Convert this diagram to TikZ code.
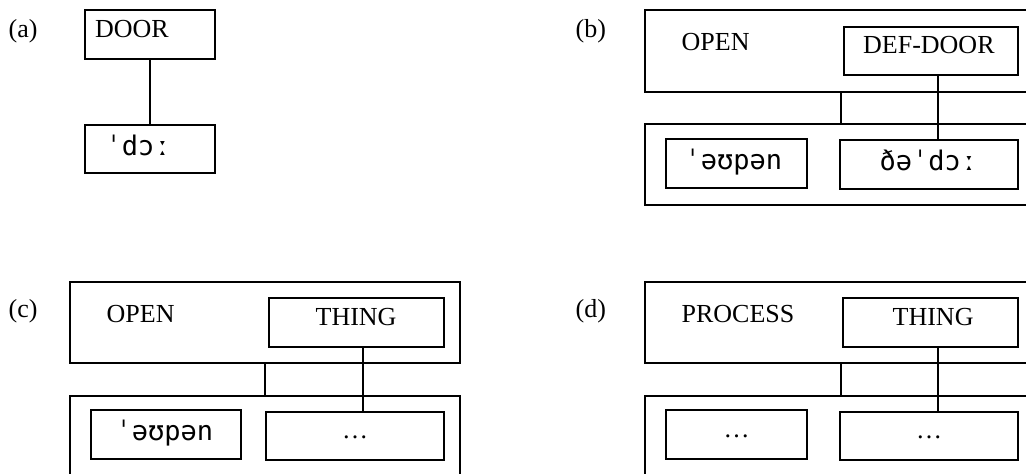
\documentclass[tikz,border=0pt]{standalone}
\usepackage{fontspec}
\setmainfont{Liberation Serif}
\newfontfamily\ipafont{DejaVu Sans Mono}
\begin{document}
\begin{tikzpicture}[x=0.5pt,y=-0.5pt,line width=0.65pt,
  box/.style 2 args={draw, inner sep=0pt, outer sep=0pt, minimum width=#1*0.5pt, minimum height=#2*0.5pt, anchor=north west},
  lbl/.style={inner sep=0pt, anchor=base west, font=\fontsize{13}{15}\selectfont},
  ipa/.style={inner sep=0pt, anchor=base west, font=\fontsize{13.5}{15}\ipafont},
  dots/.style={inner sep=0pt, anchor=base, font=\fontsize{13}{15}\selectfont}]
\useasboundingbox (0,0) rectangle (1026,473);
\clip (0,0) rectangle (1026,473);
\fill[white] (0,0) rectangle (1026,473);
% (a)
\node[lbl] (labA) at (8,37) {(a)};
\node[box={130}{49}] (doorA) at (85,10) {};
\node[lbl] (tDoorA) at (94.5,37) {DOOR};
\node[box={130}{48}] (phonA) at (85,125) {};
\node[ipa] (tPhonA) at (105,155) {ˈdɔː};
\draw (doorA.south) -- (phonA.north);
% (b)
\node[lbl] (labB) at (575,37) {(b)};
\node[box={400}{82}] (upB) at (645,10) {};
\node[lbl] (tOpenB) at (681,50) {OPEN};
\node[box={174}{48}] (defB) at (844,27) {};
\node[lbl] (tDefB) at (862.5,53) {DEF-DOOR};
\node[box={400}{81}] (lowB) at (645,124) {};
\node[box={141}{49}] (ouB) at (666,139) {};
\node[ipa] (tOuB) at (684,169.5) {ˈəʊpən};
\node[box={178}{49}] (dhB) at (840,140) {};
\node[ipa] (tDhB) at (879,170) {ðəˈdɔː};
\coordinate (kB) at (841,0);
\coordinate (jB) at (938,0);
\draw (upB.south -| kB) -- (lowB.north -| kB);
\draw (defB.south -| jB) -- (dhB.north -| jB);
% (c)
\node[lbl] (labC) at (8,317) {(c)};
\node[box={390}{81}] (upC) at (70,282) {};
\node[lbl] (tOpenC) at (106,322) {OPEN};
\node[box={175}{49}] (thingC) at (269,298) {};
\node[lbl] (tThingC) at (315,325) {THING};
\node[box={390}{100}] (lowC) at (70,396) {};
\node[box={150}{49}] (ouC) at (91,410) {};
\node[ipa] (tOuC) at (115,440) {ˈəʊpən};
\node[box={178}{48}] (dotsC) at (266,412) {};
\node[dots] (tDotsC) at (355,438.5) {…};
\coordinate (kC) at (265,0);
\coordinate (jC) at (363,0);
\draw (upC.south -| kC) -- (lowC.north -| kC);
\draw (thingC.south -| jC) -- (dotsC.north -| jC);
% (d)
\node[lbl] (labD) at (575,317) {(d)};
\node[box={400}{81}] (upD) at (645,282) {};
\node[lbl] (tProcD) at (681,322) {PROCESS};
\node[box={175}{49}] (thingD) at (843,298) {};
\node[lbl] (tThingD) at (892,325) {THING};
\node[box={400}{100}] (lowD) at (645,396) {};
\node[box={141}{49}] (dotsD1) at (666,410) {};
\node[dots] (tDotsD1) at (736.5,437.5) {…};
\node[box={178}{48}] (dotsD2) at (840,412) {};
\node[dots] (tDotsD2) at (929,438.5) {…};
\coordinate (kD) at (841,0);
\coordinate (jD) at (938,0);
\draw (upD.south -| kD) -- (lowD.north -| kD);
\draw (thingD.south -| jD) -- (dotsD2.north -| jD);
\end{tikzpicture}
\end{document}
